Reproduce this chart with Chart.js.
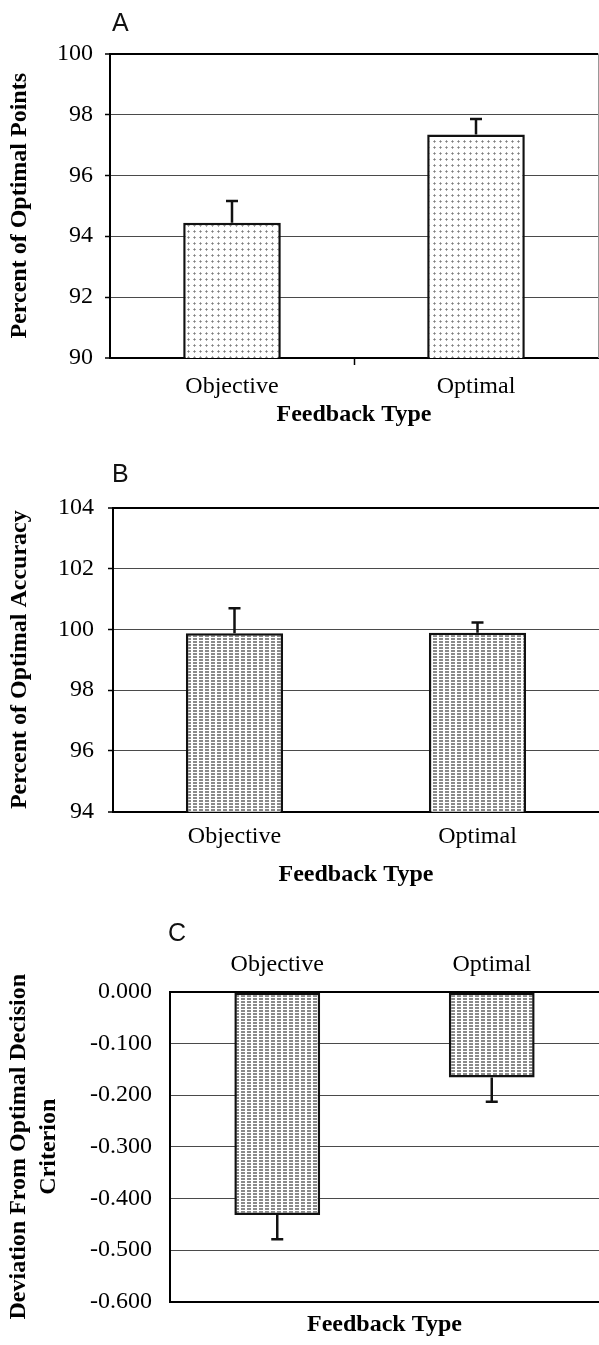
<!DOCTYPE html>
<html>
<head>
<meta charset="utf-8">
<script src="https://cdn.jsdelivr.net/npm/chart.js@4.4.1/dist/chart.umd.min.js"></script>
<style>
html,body{margin:0;padding:0;background:#fff;}
#wrap{position:relative;width:599px;height:1345px;overflow:hidden;background:#fff;}
canvas{position:absolute;left:0;}
</style>
</head>
<body>
<div id="wrap">
  <canvas id="chartA" width="599" height="440" style="top:0"></canvas>
  <canvas id="chartB" width="599" height="450" style="top:440px"></canvas>
  <canvas id="chartC" width="599" height="455" style="top:890px"></canvas>
</div>
<script>
/* ─ data ─ */
const categories = ['Objective', 'Optimal'];

const pointsMean = [94.44, 97.34];
const pointsErr = [0.72, 0.51];
const pointsTicks = [90, 92, 94, 96, 98, 100];

const accuracyMean = [99.87, 99.89];
const accuracyErr = [0.82, 0.33];
const accuracyTicks = [94, 96, 98, 100, 102, 104];

const criterionMean = [-0.432, -0.166];
const criterionErr = [0.047, 0.047];
const criterionTicks = [-0.6, -0.5, -0.4, -0.3, -0.2, -0.1, 0];

/* ─ defaults ─ */
Chart.defaults.font.family = "'Liberation Serif','Times New Roman',serif";
Chart.defaults.font.size = 24;
Chart.defaults.color = '#000';

/* ─ fill patterns ─ */
function makePattern(dense){
  const c = document.createElement('canvas');
  c.width = 6; c.height = dense ? 3 : 6;
  const g = c.getContext('2d');
  g.fillStyle = '#fff'; g.fillRect(0, 0, c.width, c.height);
  if(dense){
    g.fillStyle = '#8a8a8a';
    g.fillRect(1, 0, 4, 2);
  }else{
    g.fillStyle = '#a8a8a8';
    g.fillRect(1, 3, 3, 1);
    g.fillRect(2, 2, 1, 3);
    g.fillStyle = '#7e7e7e';
    g.fillRect(2, 3, 1, 1);
  }
  return g.createPattern(c, 'repeat');
}
const lightDots = makePattern(false);
const denseDots = makePattern(true);

/* ─ error bars (one-sided, away from base) ─ */
const errorBars = {
  id: 'errorBars',
  afterDatasetsDraw(chart){
    const ctx = chart.ctx, y = chart.scales.y;
    const ds = chart.data.datasets[0];
    const base = y.getBaseValue();
    chart.getDatasetMeta(0).data.forEach((bar, i) => {
      const v = ds.data[i];
      const dir = v >= base ? 1 : -1;
      const ey = y.getPixelForValue(v + dir * ds.errors[i]);
      ctx.save();
      ctx.strokeStyle = '#111';
      ctx.lineWidth = 2.5;
      ctx.beginPath();
      ctx.moveTo(bar.x, bar.y);
      ctx.lineTo(bar.x, ey);
      ctx.moveTo(bar.x - 6, ey);
      ctx.lineTo(bar.x + 6, ey);
      ctx.stroke();
      ctx.restore();
    });
  }
};

/* ─ panel letter + right frame ─ */
const panelDeco = {
  id: 'panelDeco',
  afterDraw(chart, args, o){
    const ctx = chart.ctx, a = chart.chartArea;
    ctx.save();
    if(o.rightEdge){
      ctx.strokeStyle = '#999'; ctx.lineWidth = 1;
      ctx.beginPath(); ctx.moveTo(a.right + 0.5, a.top); ctx.lineTo(a.right + 0.5, a.bottom); ctx.stroke();
    }
    ctx.fillStyle = '#111';
    ctx.font = "25px 'Liberation Sans', Arial, sans-serif";
    ctx.textBaseline = 'middle';
    ctx.fillText(o.text, o.x, o.y);
    ctx.restore();
  }
};

function yScale(o){
  const first = o.ticks[0], last = o.ticks[o.ticks.length - 1];
  const edge = c => c.tick && (c.tick.value === first || c.tick.value === last);
  return {
    min: first, max: last,
    afterBuildTicks: s => { s.ticks = o.ticks.map(v => ({value: v})); },
    afterFit: s => { s.width = o.width; },
    ticks: {padding: o.pad, color: '#000', callback: o.fmt},
    grid: {
      drawTicks: o.tickMarks, tickLength: 5, tickColor: '#000', tickWidth: 1.5,
      color: c => edge(c) ? '#000' : '#4a4a4a',
      lineWidth: c => edge(c) ? 2 : 1
    },
    border: {color: '#000', width: 2},
    title: {
      display: true, text: o.title, color: '#000',
      font: {size: 24, weight: 'bold', lineHeight: o.lh || 1.2},
      padding: {top: o.titlePad, bottom: 0}
    }
  };
}

function dataset(means, errs, fill){
  return {
    data: means, errors: errs,
    backgroundColor: fill, borderColor: '#111', borderWidth: 2.5, borderSkipped: false,
    barPercentage: 0.4, categoryPercentage: 1
  };
}

const baseOpts = {responsive: false, animation: false, devicePixelRatio: 1};

/* ─ A ─ */
new Chart(document.getElementById('chartA'), {
  type: 'bar',
  data: {labels: categories, datasets: [dataset(pointsMean, pointsErr, lightDots)]},
  options: {
    ...baseOpts,
    layout: {padding: {top: 53.5, right: 1, bottom: 0, left: 0}},
    plugins: {legend: {display: false}, tooltip: {enabled: false},
      panelDeco: {text: 'A', x: 112, y: 24, rightEdge: true}},
    scales: {
      x: {
        afterFit: s => { s.height = 82; },
        ticks: {padding: 7.6, color: '#000'},
        grid: {drawOnChartArea: false, drawTicks: true, tickLength: 7, tickWidth: 1.5,
          tickColor: c => c.index === 1 ? '#000' : 'rgba(0,0,0,0)'},
        border: {color: '#000', width: 2},
        title: {display: true, text: 'Feedback Type', color: '#000',
          font: {size: 24, weight: 'bold'}, padding: {top: 0, bottom: 10.6}}
      },
      y: yScale({ticks: pointsTicks, width: 110, pad: 12, tickMarks: true,
        fmt: v => String(v), title: 'Percent of Optimal Points', titlePad: 5.6})
    }
  },
  plugins: [errorBars, panelDeco]
});

/* ─ B ─ */
new Chart(document.getElementById('chartB'), {
  type: 'bar',
  data: {labels: categories, datasets: [dataset(accuracyMean, accuracyErr, denseDots)]},
  options: {
    ...baseOpts,
    layout: {padding: {top: 67.7, right: -4, bottom: 0, left: 0}},
    plugins: {legend: {display: false}, tooltip: {enabled: false},
      panelDeco: {text: 'B', x: 112, y: 35}},
    scales: {
      x: {
        afterFit: s => { s.height = 78.3; },
        ticks: {padding: 11, color: '#000'},
        grid: {drawOnChartArea: false, drawTicks: false},
        border: {color: '#000', width: 2},
        title: {display: true, text: 'Feedback Type', color: '#000',
          font: {size: 24, weight: 'bold'}, padding: {top: 0, bottom: 0.6}}
      },
      y: yScale({ticks: accuracyTicks, width: 113, pad: 14, tickMarks: true,
        fmt: v => String(v), title: 'Percent of Optimal Accuracy', titlePad: 5.6})
    }
  },
  plugins: [errorBars, panelDeco]
});

/* ─ C ─ */
new Chart(document.getElementById('chartC'), {
  type: 'bar',
  data: {labels: categories, datasets: [dataset(criterionMean, criterionErr, denseDots)]},
  options: {
    ...baseOpts,
    layout: {padding: {top: 41.7, right: -5, bottom: 0, left: 0}},
    plugins: {legend: {display: false}, tooltip: {enabled: false},
      panelDeco: {text: 'C', x: 168, y: 44}},
    scales: {
      x: {
        position: 'top',
        afterFit: s => { s.height = 60; },
        ticks: {padding: 12.3, color: '#000'},
        grid: {drawOnChartArea: false, drawTicks: false},
        border: {color: '#000', width: 2}
      },
      x2: {
        type: 'category', labels: categories, position: 'bottom', offset: true,
        afterFit: s => { s.height = 43.3; },
        ticks: {display: false},
        grid: {display: false},
        border: {display: false},
        title: {display: true, text: 'Feedback Type', color: '#000',
          font: {size: 24, weight: 'bold'}, padding: {top: 0, bottom: 5.6}}
      },
      y: yScale({ticks: criterionTicks, width: 170, pad: 18, tickMarks: false,
        fmt: v => v.toFixed(3), title: ['Deviation From Optimal Decision', 'Criterion'],
        titlePad: 4, lh: 1.25})
    }
  },
  plugins: [errorBars, panelDeco]
});
</script>
</body>
</html>
